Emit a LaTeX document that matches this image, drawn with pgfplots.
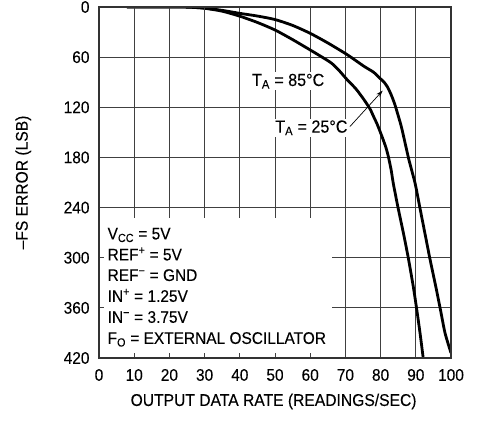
\documentclass[border=0pt]{standalone}
\usepackage{fontspec}
\setmainfont{Liberation Sans}[FakeStretch=0.92, FakeBold=0.12]
\usepackage{pgfplots}
\pgfplotsset{compat=1.18}
\usetikzlibrary{arrows.meta}
\tikzset{gridc/.style={black!75, line width=0.8bp}}
\newcommand{\boxfont}{\fontsize{16.8bp}{19bp}\selectfont}
\newcommand{\tafont}{\fontsize{17.5bp}{20bp}\selectfont}

\begin{document}
\begin{tikzpicture}
\useasboundingbox (-99bp,-64bp) rectangle (383bp,358bp);
\begin{axis}[
    scale only axis, width=352bp, height=351bp,
    xmin=0, xmax=100, ymin=0, ymax=420, y dir=reverse,
    xtick={0,10,...,100}, ytick={0,60,...,420},
    axis on top,
    tick align=inside, major tick length=5bp,
    tick style={black!75, line width=0.8bp},
    axis line style={black!80, line width=1.4bp},
    /pgf/number format/assume math mode=true,
    ticklabel style={font=\fontsize{16.8bp}{18bp}\selectfont},
    xticklabel style={yshift=-7.5bp},
    yticklabel style={xshift=-6bp},
    label style={font=\fontsize{17bp}{20bp}\selectfont},
    xlabel={OUTPUT DATA RATE (READINGS/SEC)},
    ylabel={–FS ERROR (LSB)},
    xlabel style={at={(axis description cs:0.496,-0.124)}, anchor=center},
    ylabel style={at={(axis description cs:-0.215,0.5)}, anchor=center},
]
% grid drawn by hand so the note box can hide part of it
\pgfplotsinvokeforeach{10,20,...,90}{\draw[gridc] (axis cs:#1,0) -- (axis cs:#1,420);}
\pgfplotsinvokeforeach{60,120,...,360}{\draw[gridc] (axis cs:0,#1) -- (axis cs:100,#1);}
\fill[white] (axis cs:0,252) rectangle (axis cs:66.3,420);

% TA = 85C
\addplot[black, line width=2.8bp, smooth, tension=0.4] coordinates {
  (7.9,0) (15,0) (23,0) (26,0.3) (30,1.3) (35,4) (40,7.6) (45,10.8)
  (50,15) (55,22) (60,31.5) (65,43) (70.5,57) (75.3,71) (78,78)
  (80,86) (81,90) (82,96) (83,105) (84,116) (85,130) (86,145) (88,182)
  (89.8,211) (91.2,241) (92.6,271) (94,301) (95.7,335) (96.9,360)
  (98.3,390) (100,414)};
% TA = 25C
\addplot[black, line width=2.8bp, smooth, tension=0.4] coordinates {
  (7.9,0) (15,0) (23,0) (26,0.3) (30,1.5) (35,5) (40,11) (45,18.5)
  (50,27.5) (55,39) (60,51.4) (63,59) (66,67) (68,75) (70.5,87) (73,98)
  (75.3,111) (77,122) (78,131) (79,140) (80.4,155) (81.5,168) (82.2,179)
  (83,195) (83.6,211) (85,241) (86.5,271) (87.9,301) (89.3,335)
  (90.2,360) (91.2,390) (92.1,420)};

\node[fill=white, inner sep=1.5bp, anchor=base west, font=\tafont]
  at (axis cs:43.0,94.5) {T\textsubscript{A} = 85°C};
\node[fill=white, inner sep=1.5bp, anchor=base west, font=\tafont]
  at (axis cs:49.6,150.3) {T\textsubscript{A} = 25°C};
\draw[-{Stealth[length=7bp,width=4.5bp]}, line width=0.7bp]
  (axis cs:71.3,143) -- (axis cs:80.6,100);

\node[inner sep=0, anchor=base west, font=\boxfont] at (axis cs:2.4,278.1) {V\textsubscript{CC} = 5V};
\node[inner sep=0, anchor=base west, font=\boxfont] at (axis cs:2.4,303.2) {REF\textsuperscript{+} = 5V};
\node[inner sep=0, anchor=base west, font=\boxfont] at (axis cs:2.4,327.8) {REF\textsuperscript{−} = GND};
\node[inner sep=0, anchor=base west, font=\boxfont] at (axis cs:2.4,352.8) {IN\textsuperscript{+} = 1.25V};
\node[inner sep=0, anchor=base west, font=\boxfont] at (axis cs:2.4,377.9) {IN\textsuperscript{−} = 3.75V};
\node[inner sep=0, anchor=base west, font=\boxfont] at (axis cs:2.4,403.1) {F\textsubscript{O} = EXTERNAL OSCILLATOR};
\end{axis}
\end{tikzpicture}
\end{document}
